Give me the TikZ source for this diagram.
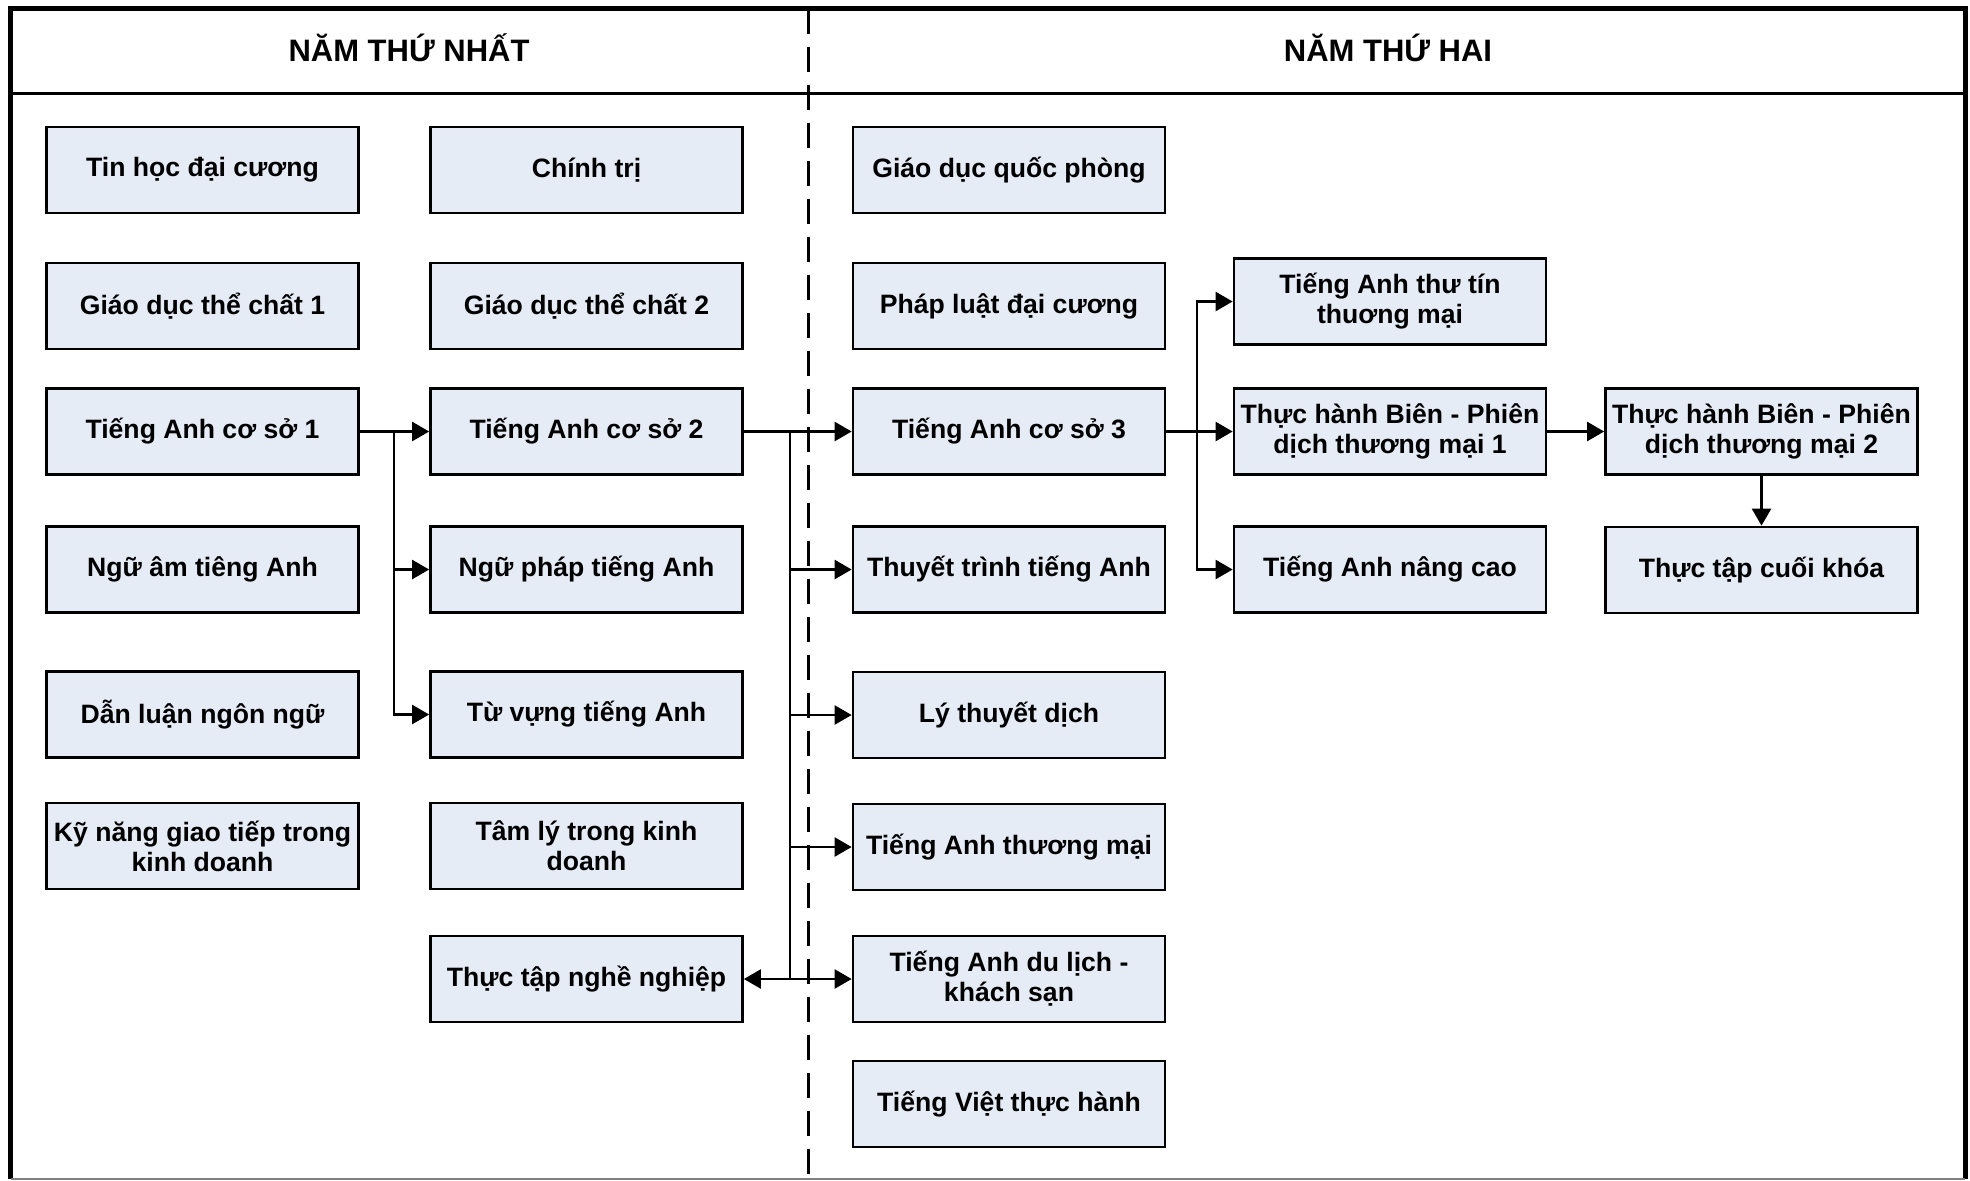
\documentclass[tikz,border=0pt]{standalone}
\usepackage{fontspec}
\setmainfont{Liberation Sans}
\usetikzlibrary{arrows.meta}
\definecolor{nenxanh}{HTML}{E6ECF6}

\begin{document}
\begin{tikzpicture}[x=0.5pt, y=-0.5pt]
\tikzset{monhoc/.style={draw, line width=1.35pt, fill=nenxanh, minimum width=156pt, minimum height=43pt, inner sep=1pt, align=center, font=\fontsize{13.3}{15}\selectfont\bfseries}}
\tikzset{tieude/.style={font=\fontsize{15.5}{18}\selectfont\bfseries, anchor=base}}
\tikzset{muiten/.style={-{Triangle[length=8.5pt, width=9.5pt]}, line width=1.15pt}}
\useasboundingbox (0,0) rectangle (1970,1180);
% khung
\draw[line width=2.5pt] (10.5,1179) -- (10.5,8.5) -- (1965,8.5) -- (1965,1179);
\draw[gray, line width=0.75pt] (10.5,1179) -- (1965,1179);
\draw[line width=1.75pt] (10.5,93.5) -- (1965,93.5);
\draw[line width=1.5pt, dash pattern=on 12.5pt off 6.5pt] (808,8.5) -- (808,1179);
\node[tieude] (H1) at (409,61) {NĂM THỨ NHẤT};
\node[tieude] (H2) at (1388,61) {NĂM THỨ HAI};
% nam thu nhat
\node[monhoc] (A1) at (202.5,170) {Tin học đại cương};
\node[monhoc] (A2) at (586.5,170) {Chính trị};
\node[monhoc] (A3) at (202.5,306) {Giáo dục thể chất 1};
\node[monhoc] (A4) at (586.5,306) {Giáo dục thể chất 2};
\node[monhoc] (A5) at (202.5,431.5) {Tiếng Anh cơ sở 1};
\node[monhoc] (A6) at (586.5,431.5) {Tiếng Anh cơ sở 2};
\node[monhoc] (A7) at (202.5,569.5) {Ngữ âm tiêng Anh};
\node[monhoc] (A8) at (586.5,569.5) {Ngữ pháp tiếng Anh};
\node[monhoc] (A9) at (202.5,714.5) {Dẫn luận ngôn ngữ};
\node[monhoc] (A10) at (586.5,714.5) {Từ vựng tiếng Anh};
\node[monhoc] (A11) at (202.5,846) {Kỹ năng giao tiếp trong\\kinh doanh};
\node[monhoc] (A12) at (586.5,846) {Tâm lý trong kinh\\doanh};
\node[monhoc] (A13) at (586.5,979) {Thực tập nghề nghiệp};
% nam thu hai
\node[monhoc] (B1) at (1009,170) {Giáo dục quốc phòng};
\node[monhoc] (B2) at (1009,306) {Pháp luật đại cương};
\node[monhoc] (B3) at (1009,431.5) {Tiếng Anh cơ sở 3};
\node[monhoc] (B4) at (1009,569.5) {Thuyết trình tiếng Anh};
\node[monhoc] (B5) at (1009,715) {Lý thuyết dịch};
\node[monhoc] (B6) at (1009,847) {Tiếng Anh thương mại};
\node[monhoc] (B7) at (1009,979) {Tiếng Anh du lịch -\\khách sạn};
\node[monhoc] (B8) at (1009,1104) {Tiếng Việt thực hành};
\node[monhoc] (B9) at (1390,301.5) {Tiếng Anh thư tín\\thuơng mại};
\node[monhoc] (B10) at (1390,431.5) {Thực hành Biên - Phiên\\dịch thương mại 1};
\node[monhoc] (B11) at (1390,569.5) {Tiếng Anh nâng cao};
\node[monhoc] (B12) at (1761.5,431.5) {Thực hành Biên - Phiên\\dịch thương mại 2};
\node[monhoc] (B13) at (1761.5,570) {Thực tập cuối khóa};
% mui ten
\coordinate (T1) at (394,431.5);
\coordinate (T2) at (790,431.5);
\coordinate (T3) at (1197,431.5);
\draw[muiten] (A5.east) -- (A6.west);
\draw[muiten] (T1) |- (A8.west);
\draw[muiten] (T1) |- (A10.west);
\draw[muiten] (A6.east) -- (B3.west);
\draw[muiten] (T2) |- (B4.west);
\draw[muiten] (T2) |- (B5.west);
\draw[muiten] (T2) |- (B6.west);
\draw[muiten] (T2) |- (B7.west);
\draw[muiten] (T2) |- (A13.east);
\draw[muiten] (B3.east) -- (B10.west);
\draw[muiten] (T3) |- (B9.west);
\draw[muiten] (T3) |- (B11.west);
\draw[muiten] (B10.east) -- (B12.west);
\draw[muiten] (B12.south) -- (B13.north);
\end{tikzpicture}
\end{document}
